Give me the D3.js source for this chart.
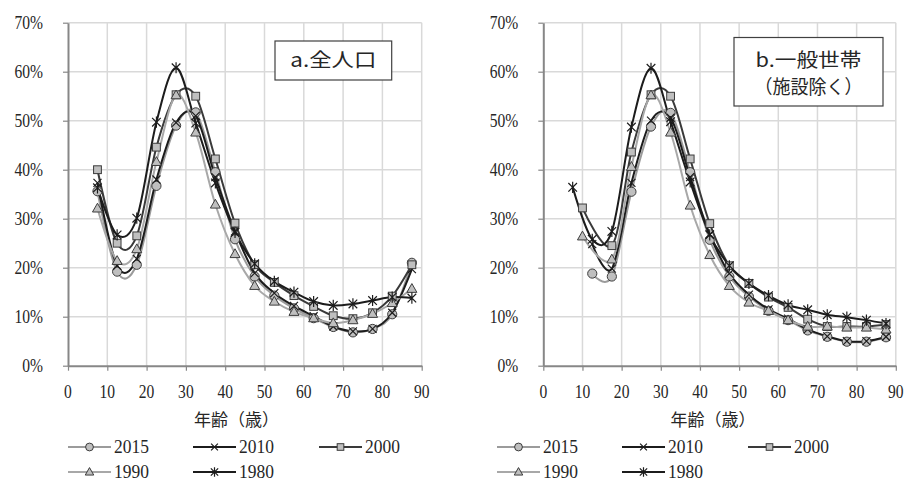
<!DOCTYPE html>
<html>
<head>
<meta charset="utf-8">
<script src="https://cdn.jsdelivr.net/npm/d3@7"></script>
<style>
  body { margin: 0; background: #fff; }
  svg { display: block; }
</style>
</head>
<body>
<svg id="chart" width="907" height="482"></svg>
<script>
// ---- data ----
const years = ["2015", "2010", "2000", "1990", "1980"];
const ages = [7.5, 12.5, 17.5, 22.5, 27.5, 32.5, 37.5, 42.5, 47.5, 52.5, 57.5, 62.5, 67.5, 72.5, 77.5, 82.5, 87.5];

// a. total population
const all2015 = [35.6, 19.2, 20.6, 36.7, 49.0, 51.7, 39.5, 25.8, 18.2, 14.3, 11.7, 9.7, 7.9, 6.8, 7.5, 10.5, 21.0];
const all2010 = [37.3, 20.4, 21.8, 38.0, 49.6, 51.0, 38.5, 27.4, 18.9, 14.8, 12.2, 10.1, 8.0, 7.0, 7.5, 10.8, 19.7];
const all2000 = [40.0, 25.0, 26.5, 44.6, 55.3, 55.0, 42.2, 29.1, 20.6, 17.0, 14.3, 12.1, 10.2, 9.6, 10.8, 14.2, 20.6];
const all1990 = [32.1, 21.4, 23.8, 41.6, 55.2, 47.6, 32.9, 22.8, 16.3, 13.1, 11.0, 9.7, 8.7, 9.3, 10.6, 12.8, 15.7];
const all1980 = [36.3, 26.7, 30.1, 49.7, 60.8, 49.5, 37.3, 27.2, 20.8, 17.2, 15.0, 13.1, 12.3, 12.6, 13.3, 14.0, 13.8];

// b. general households (excluding institutions)
const hhAges2015 = ages.slice(1);
const hhAges2010 = ages.slice(1);
const hhAges2000 = [10].concat(ages.slice(2));
const hhAges1990 = [10].concat(ages.slice(2));
const hhAges1980 = ages;
const hh2015 = [18.8, 18.2, 35.5, 48.8, 51.6, 39.5, 25.7, 18.2, 14.1, 11.2, 9.3, 7.2, 5.9, 4.9, 4.9, 5.8];
const hh2010 = [24.8, 19.8, 37.3, 50.0, 50.6, 38.5, 26.8, 18.8, 14.5, 11.5, 9.6, 7.4, 6.0, 5.0, 5.0, 5.9];
const hh2000 = [32.2, 24.5, 43.6, 55.3, 55.0, 42.2, 29.0, 20.4, 16.8, 14.0, 11.9, 9.5, 8.0, 8.0, 8.0, 8.4];
const hh1990 = [26.4, 21.7, 40.6, 55.2, 47.6, 32.7, 22.6, 16.3, 12.9, 11.2, 9.3, 8.0, 8.0, 7.8, 7.8, 7.4];
const hh1980 = [36.4, 25.8, 27.4, 48.7, 60.7, 49.8, 37.5, 26.7, 20.4, 16.8, 14.3, 12.4, 11.4, 10.4, 9.9, 9.3, 8.6];

const xTicks = [0, 10, 20, 30, 40, 50, 60, 70, 80, 90];
const yTicks = [0, 10, 20, 30, 40, 50, 60, 70];

// ---- styling per series ----
const style = {
  "2015": { color: "#9b9b9b", marker: "circle" },
  "2010": { color: "#1c1c1c", marker: "x" },
  "2000": { color: "#3a3a3a", marker: "square" },
  "1990": { color: "#a8a8a8", marker: "triangle" },
  "1980": { color: "#1c1c1c", marker: "star" }
};

const svg = d3.select("#chart");
const serif = "Liberation Serif, DejaVu Serif, Noto Sans CJK JP, serif";
const jp = "Noto Sans CJK JP, Liberation Serif, serif";

const panels = [
  {
    x0: 68, x1: 421.7, legendX: 68, titleX: 236.5,
    box: [275, 41, 116.7, 39], boxText: [["a.全人口", 66.5, 86]],
    series: [
      { year: "2015", x: ages, y: all2015 },
      { year: "2010", x: ages, y: all2010 },
      { year: "2000", x: ages, y: all2000 },
      { year: "1990", x: ages, y: all1990 },
      { year: "1980", x: ages, y: all1980 }
    ]
  },
  {
    x0: 543.3, x1: 895.8, legendX: 497, titleX: 713,
    box: [734, 37.5, 149, 68.5], boxText: [["b.一般世帯", 66.5, 106], ["（施設除く）", 93.5, 108]],
    series: [
      { year: "2015", x: hhAges2015, y: hh2015 },
      { year: "2010", x: hhAges2010, y: hh2010 },
      { year: "2000", x: hhAges2000, y: hh2000 },
      { year: "1990", x: hhAges1990, y: hh1990 },
      { year: "1980", x: hhAges1980, y: hh1980 }
    ]
  }
];

/** draw one marker symbol centred at 0,0 */
function drawMarker(g, type, color, s) {
  const fill = "#bfbfbf", edge = "#3c3c3c";
  if (type === "circle") {
    g.append("circle").attr("r", 4.6 * s).attr("fill", fill).attr("stroke", edge).attr("stroke-width", 1);
  } else if (type === "square") {
    g.append("rect").attr("x", -3.9 * s).attr("y", -3.9 * s).attr("width", 7.8 * s).attr("height", 7.8 * s)
      .attr("fill", fill).attr("stroke", edge).attr("stroke-width", 1);
  } else if (type === "triangle") {
    g.append("path").attr("d", `M0,${-5.2 * s}L${5 * s},${3.6 * s}L${-5 * s},${3.6 * s}Z`)
      .attr("fill", fill).attr("stroke", edge).attr("stroke-width", 1);
  } else if (type === "x") {
    const r = 4 * s;
    g.append("path").attr("d", `M${-r},${-r}L${r},${r}M${-r},${r}L${r},${-r}`)
      .attr("stroke", color).attr("stroke-width", 1.2).attr("fill", "none");
  } else if (type === "star") {
    const r = 4.3 * s;
    g.append("path").attr("d", `M${-r},${-r}L${r},${r}M${-r},${r}L${r},${-r}M0,${-r * 1.3}L0,${r * 1.3}`)
      .attr("stroke", color).attr("stroke-width", 1.2).attr("fill", "none");
  }
}

/** squeezed serif text, the reference font is narrow */
function label(g, x, y, txt, size, anchor, sx) {
  return g.append("text")
    .attr("transform", `translate(${x},${y}) scale(${sx},1)`)
    .attr("text-anchor", anchor)
    .style("font-family", serif)
    .attr("font-size", size)
    .attr("fill", "#262626")
    .text(txt);
}

panels.forEach(p => {
  const g = svg.append("g");
  const x = d3.scaleLinear().domain([0, 90]).range([p.x0, p.x1]);
  const y = d3.scaleLinear().domain([0, 70]).range([365.7, 22.7]);

  // grid
  g.selectAll("line.vgrid").data(xTicks.filter(d => d > 0)).join("line")
    .attr("class", "vgrid")
    .attr("x1", d => x(d)).attr("x2", d => x(d))
    .attr("y1", y(70)).attr("y2", y(0))
    .attr("stroke", "#d9d9d9").attr("stroke-width", 1.5);
  g.selectAll("line.hgrid").data(yTicks.filter(d => d > 0)).join("line")
    .attr("class", "hgrid")
    .attr("x1", x(0)).attr("x2", x(90))
    .attr("y1", d => y(d)).attr("y2", d => y(d))
    .attr("stroke", "#d9d9d9").attr("stroke-width", 1.5);

  // axes
  const yAxis = g.append("g").attr("transform", `translate(${x(0)},0)`)
    .call(d3.axisLeft(y).tickValues(yTicks).tickSize(5).tickSizeOuter(0).tickFormat(""));
  const xAxis = g.append("g").attr("transform", `translate(0,${y(0)})`)
    .call(d3.axisBottom(x).tickValues(xTicks).tickSize(5).tickSizeOuter(0).tickFormat(""));
  [yAxis, xAxis].forEach(a => {
    a.select(".domain").attr("stroke", "#878787").attr("stroke-width", 2);
    a.selectAll(".tick line").attr("stroke", "#878787").attr("stroke-width", 1.2);
  });

  // tick labels
  yTicks.forEach(t => label(g, x(0) - 25, y(t) + 6.5, t + "%", 19, "end", 0.82));
  xTicks.forEach(t => label(g, x(t), 398, String(t), 19, "middle", 0.82));

  // x title
  g.append("text").attr("x", p.titleX).attr("y", 426).attr("text-anchor", "middle")
    .style("font-family", jp).attr("font-size", 17).attr("fill", "#262626")
    .text("年齢（歳）");

  // lines + markers
  const line = d3.line().curve(d3.curveCardinal.tension(0))
    .x(d => x(d[0])).y(d => y(d[1]));
  p.series.forEach(s => {
    const st = style[s.year];
    const pts = s.x.map((a, i) => [a, s.y[i]]);
    g.append("path").datum(pts).attr("d", line)
      .attr("fill", "none").attr("stroke", st.color).attr("stroke-width", 2);
  });
  p.series.forEach(s => {
    const st = style[s.year];
    s.x.forEach((a, i) => {
      const m = g.append("g").attr("transform", `translate(${x(a)},${y(s.y[i])})`);
      drawMarker(m, st.marker, st.color, 1);
    });
  });

  // label box
  g.append("rect").attr("x", p.box[0]).attr("y", p.box[1]).attr("width", p.box[2]).attr("height", p.box[3])
    .attr("fill", "#fff").attr("stroke", "#404040").attr("stroke-width", 1.2);
  p.boxText.forEach(bt => {
    g.append("text").attr("x", p.box[0] + p.box[2] / 2).attr("y", bt[1])
      .attr("text-anchor", "middle").style("font-family", jp).attr("font-size", 19)
      .attr("fill", "#262626")
      .attr("textLength", bt[2]).attr("lengthAdjust", "spacingAndGlyphs")
      .text(bt[0]);
  });

  // legend
  const legendPos = [[0, 447], [125, 447], [251, 447], [0, 472], [125, 472]];
  years.forEach((yr, i) => {
    const st = style[yr];
    const lx = p.legendX + legendPos[i][0], ly = legendPos[i][1];
    g.append("line").attr("x1", lx).attr("x2", lx + 43).attr("y1", ly).attr("y2", ly)
      .attr("stroke", st.color).attr("stroke-width", 2);
    const m = g.append("g").attr("transform", `translate(${lx + 21.5},${ly})`);
    drawMarker(m, st.marker, st.color, 0.85);
    label(g, lx + 46, ly + 6, yr, 19, "start", 0.92);
  });
});
</script>
</body>
</html>
